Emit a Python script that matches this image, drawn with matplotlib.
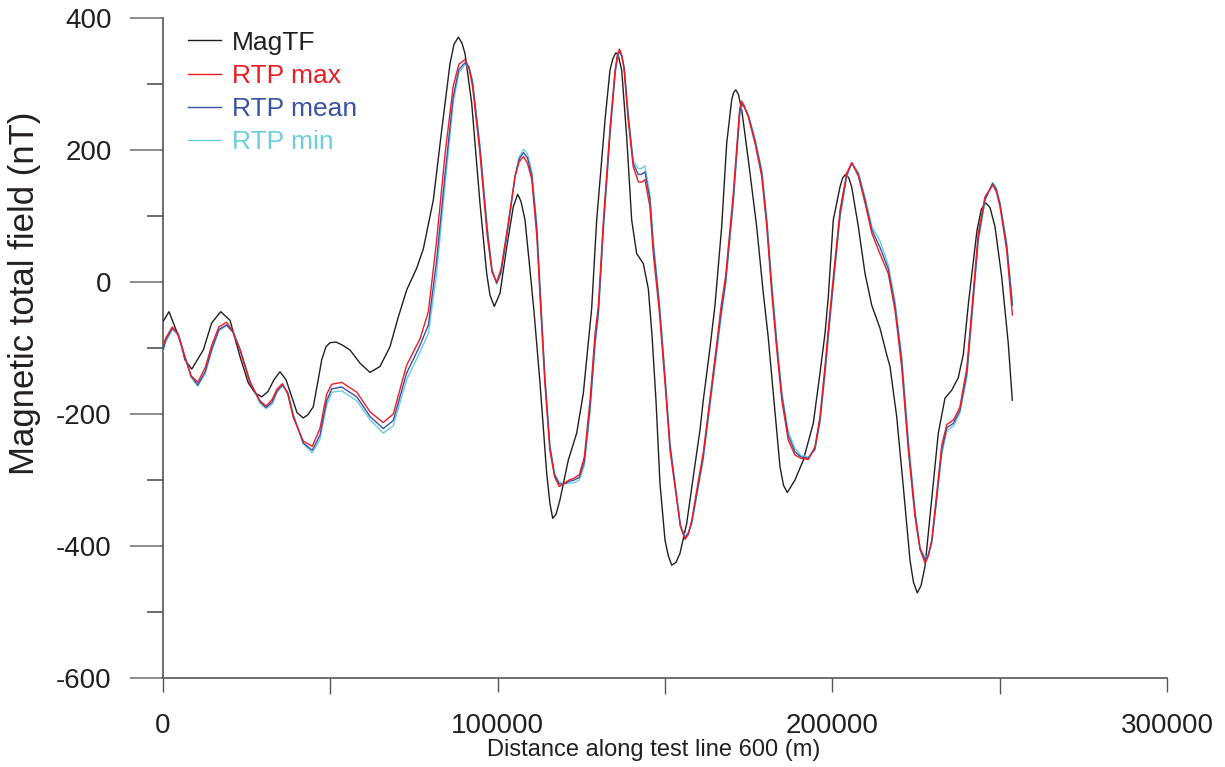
import matplotlib
matplotlib.use("Agg")
import matplotlib.pyplot as plt
from matplotlib.ticker import MultipleLocator

plt.rcParams['font.family'] = ['Liberation Sans', 'DejaVu Sans']
plt.rcParams['axes.unicode_minus'] = False

# MagTF profile (distance in m, field in nT)
mag_x = [0, 1800, 5080, 6570, 8580, 12040, 14550, 17240, 20020, 23010, 25490,
         27490, 29490, 31370, 33170, 34960, 36750, 38550, 40040, 41920, 43330,
         44910, 46310, 47420, 48700, 49900, 51690, 53400, 55880, 58860, 61850,
         64840, 67830, 70310, 72820, 75810, 77780, 80770, 83280, 85760, 86950,
         88240, 89340, 90240, 92240, 94720, 96720, 97710, 98990, 100700, 102700,
         104670, 105990, 106970, 108170, 109660, 110860, 112650, 114650, 115600,
         116440, 117430, 118620, 121100, 123610, 125590, 127080, 128090, 129590,
         132070, 133560, 134400, 135260, 135950, 137060, 138550, 140040, 141540,
         143510, 145010, 146110, 147310, 148500, 150000, 151000, 152000, 153280,
         154480, 156480, 158450, 160460, 161440, 163440, 164940, 166940, 168430,
         169930, 170500, 171130, 171900, 172920, 174900, 177390, 179370, 180770,
         182360, 184360, 185410, 186540, 188840, 191320, 194310, 196310, 197810,
         198800, 200280, 202290, 203100, 203990, 204900, 205780, 207770, 209760,
         211760, 214240, 216240, 217230, 219230, 221200, 223200, 224240, 225390,
         226500, 227690, 229690, 231660, 233660, 235660, 237630, 239130, 240720,
         243220, 244510, 245800, 247100, 248600, 250600, 252570, 253770]
mag_tf = [-60, -45, -88, -118, -132, -103, -62, -45, -58, -113, -153,
          -168, -174, -166, -148, -136, -148, -175, -198, -206, -201,
          -189, -150, -118, -98, -92, -91, -95, -103, -123, -137,
          -128, -98, -53, -12, 21, 50, 124, 230, 331, 360,
          371, 362, 346, 271, 119, 13, -20, -37, -17, 53,
          114, 133, 122, 94, 18, -45, -153, -290, -335,
          -358, -352, -330, -270, -229, -169, -93, -40, 94,
          245, 321, 338, 347, 345, 321, 220, 94, 43,
          28, -10, -80, -180, -305, -391, -415, -429, -425,
          -411, -366, -295, -224, -179, -100, -35, 84, 210,
          276, 287, 291, 285, 261, 185, 84, -17, -80,
          -169, -280, -308, -319, -300, -270, -214, -138, -78,
          -22, 94, 144, 158, 163, 158, 144, 84, 13,
          -35, -70, -110, -128, -204, -310, -421, -455, -471,
          -460, -431, -330, -229, -176, -164, -145, -110, -30,
          78, 110, 120, 113, 84, 8, -93, -179]

# RTP profiles share one distance grid
rtp_x = [0, 800, 2800, 4500, 6600, 8400, 10400, 12600, 14600, 16700, 19000,
         20900, 23000, 26000, 29000, 30800, 32600, 34100, 35700, 37300, 38900,
         41900, 44600, 46900, 48900, 50400, 53400, 57900, 61900, 65800, 68800,
         72800, 76800, 79300, 81700, 84300, 86700, 88400, 90200, 91400, 92500,
         94700, 96900, 98300, 99700, 101000, 102700, 105200, 106400, 107700,
         108900, 110200, 111700, 112800, 114100, 115600, 117000, 118400, 119800,
         121400, 122900, 124400, 125900, 127600, 129100, 130100, 131600, 133600,
         135100, 135800, 136400, 137100, 137800, 139000, 140500, 142000, 143000,
         144000, 145500, 146500, 148300, 150000, 151500, 153500, 154600, 156000,
         157000, 158000, 160000, 161400, 164000, 165300, 166800, 168100, 170400,
         171900, 172300, 172900, 173600, 174900, 176900, 178900, 180400, 181900,
         183400, 184900, 186800, 188800, 190600, 192800, 194800, 196300, 197800,
         199000, 200300, 202300, 204300, 205800, 207800, 209800, 211800, 214200,
         216700, 218700, 219600, 220700, 222700, 224700, 226200, 227700, 228700,
         229700, 231200, 232700, 234200, 236200, 238100, 240200, 241900, 243600,
         245600, 247900, 249000, 250100, 252100, 253800]
rtp_max = [-98, -85, -68, -80, -115, -142, -152, -130, -95, -68, -61,
           -75, -103, -153, -180, -188, -178, -162, -154, -170, -205,
           -241, -249, -222, -170, -155, -152, -167, -197, -213, -200,
           -126, -86, -45, 60, 195, 296, 330, 337, 325, 296,
           195, 69, 15, 0, 20, 74, 160, 182, 190,
           180, 155, 69, -35, -153, -255, -295, -310, -305,
           -300, -297, -292, -265, -179, -78, -35, 94, 235,
           321, 345, 353, 343, 321, 245, 175, 152, 151,
           155, 114, 43, -45, -153, -255, -330, -370, -390,
           -382, -361, -300, -260, -153, -100, -35, 8, 134,
           235, 262, 274, 268, 250, 210, 160, 84, -17,
           -103, -179, -239, -262, -267, -269, -250, -204, -128,
           -60, 8, 109, 165, 181, 160, 119, 74, 43,
           13, -42, -80, -128, -255, -356, -405, -426, -415,
           -391, -320, -247, -216, -209, -190, -130, -27, 74,
           129, 147, 137, 114, 48, -50]
rtp_mean = [-103, -88, -70, -78, -114, -143, -156, -136, -101, -72, -65,
            -76, -102, -151, -182, -190, -182, -165, -156, -168, -202,
            -244, -255, -232, -180, -162, -159, -174, -204, -222, -210,
            -138, -96, -65, 30, 165, 280, 322, 332, 326, 302,
            203, 78, 18, -2, 15, 70, 160, 186, 196,
            188, 162, 80, -25, -145, -250, -292, -306, -306,
            -302, -300, -296, -272, -190, -90, -45, 85, 228,
            318, 342, 350, 342, 324, 252, 180, 163, 163,
            167, 125, 55, -35, -145, -248, -327, -370, -388,
            -380, -364, -306, -266, -160, -108, -45, 0, 125,
            228, 256, 270, 266, 252, 214, 166, 92, -8,
            -95, -172, -232, -257, -265, -267, -253, -210, -136,
            -68, 0, 102, 162, 180, 163, 124, 79, 53,
            20, -35, -72, -118, -246, -350, -404, -421, -413,
            -394, -326, -255, -221, -214, -195, -138, -36, 66,
            125, 149, 140, 118, 55, -35]
rtp_min = [-106, -91, -72, -80, -114, -144, -158, -139, -104, -74, -66,
           -76, -101, -150, -183, -192, -185, -167, -157, -167, -200,
           -245, -259, -238, -187, -167, -165, -180, -209, -229, -218,
           -148, -106, -78, 10, 148, 270, 317, 329, 326, 305,
           208, 83, 20, -3, 12, 66, 160, 189, 201,
           194, 168, 88, -18, -140, -246, -290, -303, -306,
           -305, -304, -300, -278, -198, -98, -52, 78, 222,
           315, 340, 349, 342, 326, 256, 184, 172, 172,
           176, 133, 63, -28, -140, -244, -325, -368, -386,
           -379, -366, -310, -270, -166, -114, -52, -6, 118,
           222, 250, 268, 265, 254, 217, 171, 98, 0,
           -88, -166, -226, -252, -263, -265, -255, -214, -142,
           -74, -6, 96, 160, 181, 166, 128, 84, 63,
           26, -28, -65, -110, -238, -345, -402, -418, -412,
           -396, -331, -261, -226, -218, -199, -144, -44, 60,
           122, 151, 143, 121, 60, -30]

c_mag = '#231f20'
c_max = '#ed1c24'
c_mean = '#3953a4'
c_min = '#6dcde0'

fig = plt.figure(figsize=(12.25, 7.67), dpi=100)
ax = fig.add_axes([163 / 1225, 1 - 678 / 767, 1004 / 1225, 660 / 767])

l_mag, = ax.plot(mag_x, mag_tf, color=c_mag, lw=1.0, label='MagTF', zorder=3)
l_min, = ax.plot(rtp_x, rtp_min, color=c_min, lw=1.0, label='RTP min', zorder=4)
l_mean, = ax.plot(rtp_x, rtp_mean, color=c_mean, lw=1.0, label='RTP mean', zorder=5)
l_max, = ax.plot(rtp_x, rtp_max, color=c_max, lw=1.0, label='RTP max', zorder=6)

ax.set_xlim(0, 300000)
ax.set_ylim(-600, 400)
ax.xaxis.set_major_locator(MultipleLocator(100000))
ax.xaxis.set_minor_locator(MultipleLocator(50000))
ax.yaxis.set_major_locator(MultipleLocator(200))
ax.yaxis.set_minor_locator(MultipleLocator(100))

for side in ['top', 'right']:
    ax.spines[side].set_visible(False)
for side in ['left', 'bottom']:
    ax.spines[side].set_color('#555555')
    ax.spines[side].set_linewidth(1.2)

ax.tick_params(axis='y', which='major', direction='out', length=24, width=1.2,
               color='#777777', labelsize=20, labelcolor=c_mag, pad=13)
ax.tick_params(axis='y', which='minor', direction='out', length=11.5, width=1.2,
               color='#555555')
ax.tick_params(axis='x', which='major', direction='out', length=10, width=1.0,
               color='#555555', labelsize=20, labelcolor=c_mag, pad=15)
ax.tick_params(axis='x', which='minor', direction='out', length=11.5, width=1.0,
               color='#555555')

fig.text(25 / 1225, 1 - 293 / 767, 'Magnetic total field (nT)', rotation=90,
         ha='center', va='center', fontsize=25, color=c_mag)
fig.text(653.5 / 1225, 1 - 750 / 767, 'Distance along test line 600 (m)',
         ha='center', va='center', fontsize=17, color=c_mag)

leg = ax.legend(handles=[l_mag, l_max, l_mean, l_min], loc='upper left',
                bbox_to_anchor=(0.025, 0.981), frameon=False, fontsize=19,
                handlelength=1.25, handletextpad=0.4, labelspacing=0.35,
                borderpad=0, borderaxespad=0)
for txt, col in zip(leg.get_texts(), [c_mag, c_max, c_mean, c_min]):
    txt.set_color(col)
for h in leg.legend_handles:
    h.set_linewidth(1.0)

fig.savefig('out.png', dpi=100)
